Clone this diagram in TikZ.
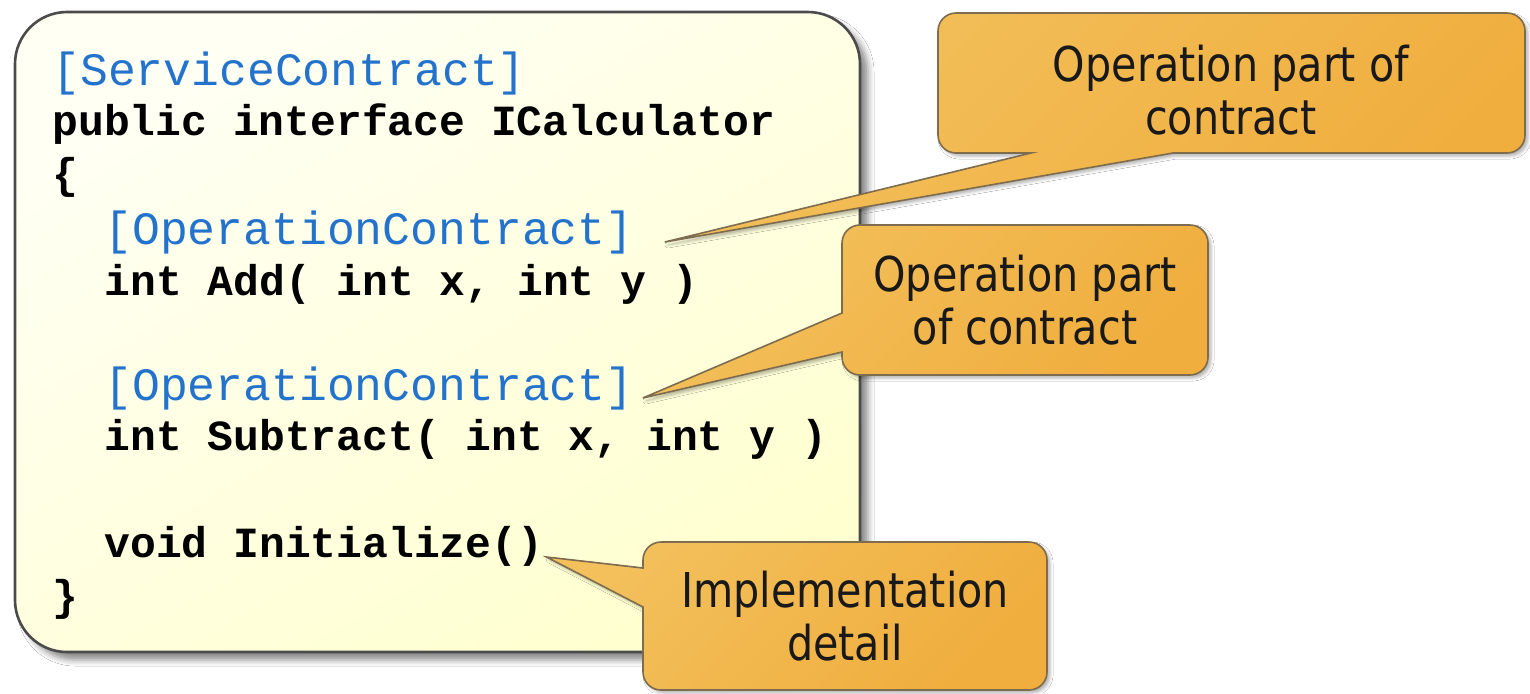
\documentclass[tikz,border=0pt]{standalone}
\usepackage{fontspec}
\newfontfamily\codefont{Liberation Mono}
\newfontfamily\callfont[FakeStretch=0.86]{DejaVu Sans}
\usetikzlibrary{calc,shadows.blur}
\definecolor{codeblue}{RGB}{35,115,205}
\definecolor{boxtop}{RGB}{255,255,244}
\definecolor{boxbot}{RGB}{255,255,208}
\definecolor{boxline}{RGB}{75,75,75}
\definecolor{caltop}{RGB}{243,192,92}
\definecolor{calmid}{RGB}{246,200,110}
\definecolor{calbot}{RGB}{240,174,62}
\definecolor{calline}{RGB}{125,108,78}
\begin{document}
\begin{tikzpicture}[x=0.5pt,y=-0.5pt,
  codebox/.style={draw=boxline, line width=1.3pt, rounded corners=26pt,
    top color=boxtop, bottom color=boxbot, shading angle=30,
    minimum width=422.5pt, minimum height=320pt, inner sep=0pt,
    blur shadow={shadow xshift=4pt, shadow yshift=-4pt, shadow blur radius=3pt, shadow opacity=45}},
  blk/.style={anchor=base west, inner sep=0pt, font=\codefont\bfseries\fontsize{21.5}{22}\selectfont, text=black},
  attr/.style={anchor=base west, inner sep=0pt, font=\codefont\fontsize{23.2}{24}\selectfont, text=codeblue},
  bubble/.style={draw=calline, line width=0.8pt, top color=caltop, middle color=calmid, bottom color=calbot, shading angle=45,
    blur shadow={shadow xshift=1.5pt, shadow yshift=-1.5pt, shadow blur radius=1.5pt, shadow opacity=30}},
  bubbletext/.style={align=center, inner sep=0pt, text=black!90, font=\callfont\fontsize{24}{26.8}\selectfont}
]
\useasboundingbox (0,0) rectangle (1530,693);
\fill[white] (0,0) rectangle (1530,693);

% code box
\node[codebox] (code) at (437.5,332) {};

% code lines
\node[attr] (l1) at (52,85)  {[ServiceContract]};
\node[blk]  (l2) at (52,135) {public interface ICalculator};
\node[blk]  (l3) at (52,188) {\{};
\node[attr] (l4) at (104,244) {[OperationContract]};
\node[blk]  (l5) at (104,295) {int Add( int x, int y )};
\node[attr] (l6) at (104,400) {[OperationContract]};
\node[blk]  (l7) at (104,450) {int Subtract( int x, int y )};
\node[blk]  (l8) at (104,557) {void Initialize()};
\node[blk]  (l9) at (52,610) {\}};

% pointer tips
\coordinate (tip1) at ($(l4.base east)+(31,-2)$);
\coordinate (tip2) at ($(l6.base east)+(9,-2)$);
\coordinate (tip3) at ($(l8.base east)+(3,0)$);

% callout 1
\path[bubble] (1231,13) [rounded corners=9pt] -- (1525,13) -- (1525,153)
  [sharp corners] -- (1173,153) -- (tip1) -- (1031,153)
  [rounded corners=9pt] -- (938,153) -- (938,13) -- cycle;
\node[bubbletext] (t1) at (1231,90) {Operation part of\\contract};

% callout 2
\path[bubble] (1025,225) [rounded corners=9pt] -- (1208,225) -- (1208,375) -- (842,375)
  [sharp corners] -- (842,352) -- (tip2) -- (842,313)
  [rounded corners=9pt] -- (842,225) -- cycle;
\node[bubbletext] (t2) at (1025,300) {Operation part\\of contract};

% callout 3
\path[bubble] (845,542) [rounded corners=9pt] -- (1047,542) -- (1047,690) -- (643,690)
  [sharp corners] -- (643,607) -- (tip3) -- (643,568)
  [rounded corners=9pt] -- (643,542) -- cycle;
\node[bubbletext] (t3) at (845,616) {Implementation\\detail};
\end{tikzpicture}
\end{document}
